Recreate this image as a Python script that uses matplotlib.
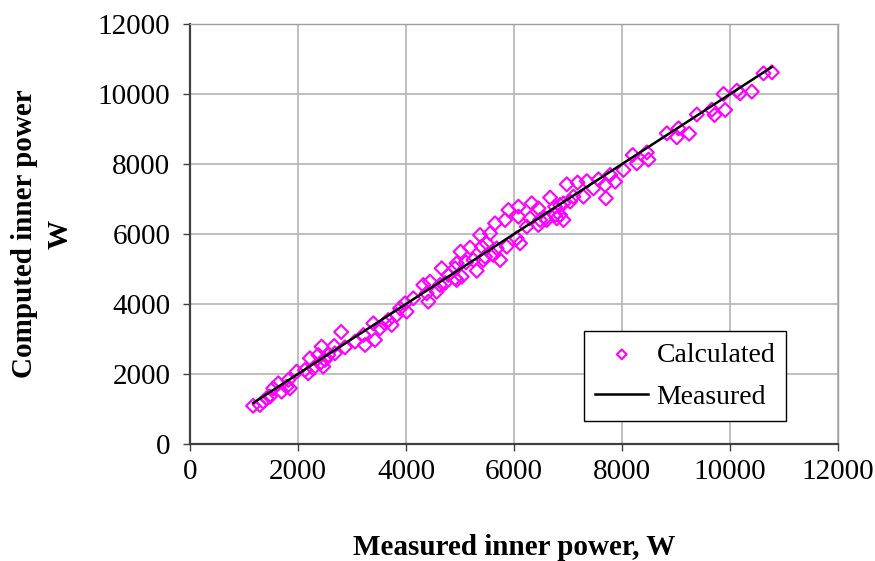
import numpy as np
import matplotlib
matplotlib.use("Agg")
import matplotlib.pyplot as plt

# Measured vs computed inner power (W)
measured = [1170, 1296, 1358, 1420, 1481, 1543, 1636, 1698, 1790, 1852,
            1821, 1975, 2130, 2191, 2222, 2284, 2377, 2407, 2438, 2500,
            2562, 2670, 2685, 2469, 2800, 2870, 3056, 3210, 3241, 3395,
            3426, 3519, 3611, 3673, 3735, 3827, 3889, 3981, 4012, 4135,
            4321, 4382, 4413, 4444, 4568, 4630, 4660, 4722, 4784, 4907,
            4938, 5370, 5494, 5185, 5010, 4938, 5110, 5309, 5432, 5031,
            4907, 5247, 5401, 5463, 5556, 5617, 5679, 5741, 5648, 5833,
            5864, 5895, 6049, 6080, 6080, 6111, 6235, 6296, 6327, 6451,
            6481, 6605, 6667, 6759, 6451, 6574, 6790, 6852, 6914, 6975,
            7099, 7175, 7346, 7469, 6759, 6852, 6914, 7037, 7284, 7562,
            7700, 7685, 7778, 7870, 8025, 8195, 8272, 8457, 8488, 8827,
            9012, 9043, 9240, 9383, 9661, 9710, 9877, 9907, 10123, 10185,
            10401, 10617, 10772]
calculated = [1090, 1114, 1210, 1305, 1352, 1590, 1733, 1495, 1638, 1590,
              1829, 2066, 2114, 2019, 2448, 2162, 2543, 2305, 2781, 2400,
              2543, 2800, 2590, 2210, 3200, 2762, 2924, 3114, 2829, 3448,
              2971, 3305, 3448, 3543, 3400, 3686, 3876, 4019, 3781, 4162,
              4543, 4305, 4067, 4638, 4352, 4543, 5019, 4600, 4829, 5019,
              4686, 5971, 5733, 5610, 5495, 5162, 5190, 4950, 5257, 4781,
              4734, 5257, 5638, 5352, 6019, 5400, 5590, 5257, 6305, 6400,
              5638, 6686, 5876, 6495, 6781, 5733, 6210, 6448, 6876, 6733,
              6400, 6400, 7040, 6781, 6257, 6448, 6448, 6543, 6876, 7420,
              7067, 7470, 7510, 7305, 6543, 6829, 6400, 6924, 7067, 7560,
              7020, 7400, 7686, 7495, 7829, 8257, 8019, 8330, 8125, 8876,
              8762, 9019, 8866, 9415, 9552, 9400, 10000, 9543, 10095, 10019,
              10067, 10591, 10619]

plt.rcParams["font.family"] = ["Liberation Serif", "DejaVu Serif"]

fig = plt.figure(figsize=(8.75, 5.61), dpi=100)
ax = fig.add_axes([0.217, 0.2086, 0.741, 0.7486])

ax.scatter(measured, calculated, marker="D", s=50, facecolors="none",
           edgecolors="#ff00ff", linewidths=1.5, label="Calculated", zorder=3)
m = np.sort(measured)
ax.plot(m, m, color="black", linewidth=1.8, label="Measured", zorder=4)

ax.set_xlim(0, 12000)
ax.set_ylim(0, 12000)
ax.set_xticks(np.arange(0, 12001, 2000))
ax.set_yticks(np.arange(0, 12001, 2000))
ax.grid(True, color="#b4b4b4", linewidth=1.2)
ax.set_axisbelow(True)

for side in ["left", "bottom"]:
    ax.spines[side].set_color("#404040")
    ax.spines[side].set_linewidth(1.6)
for side in ["top", "right"]:
    ax.spines[side].set_color("#a0a0a0")
    ax.spines[side].set_linewidth(1.0)

ax.tick_params(axis="both", direction="out", length=5, width=1, color="#404040",
               labelsize=21)
ax.tick_params(axis="y", pad=9)
ax.tick_params(axis="x", pad=6)
ax.tick_params(top=False, right=False)

ax.set_xlabel("Measured inner power, W", fontsize=21, fontweight="bold")
ax.set_ylabel("Computed inner power\nW", fontsize=21, fontweight="bold",
              linespacing=1.4)
ax.xaxis.set_label_coords(0.5, -0.215)
ax.yaxis.set_label_coords(-0.18, 0.5)

leg = ax.legend(loc="lower right", bbox_to_anchor=(0.92, 0.055), borderaxespad=0,
                fontsize=20, fancybox=False, framealpha=1, edgecolor="black",
                scatterpoints=1, handlelength=1.9, handletextpad=0.3,
                markerscale=0.7, borderpad=0.4, labelspacing=0.6)
leg.get_frame().set_linewidth(1.0)

fig.savefig("out.png", dpi=100)
